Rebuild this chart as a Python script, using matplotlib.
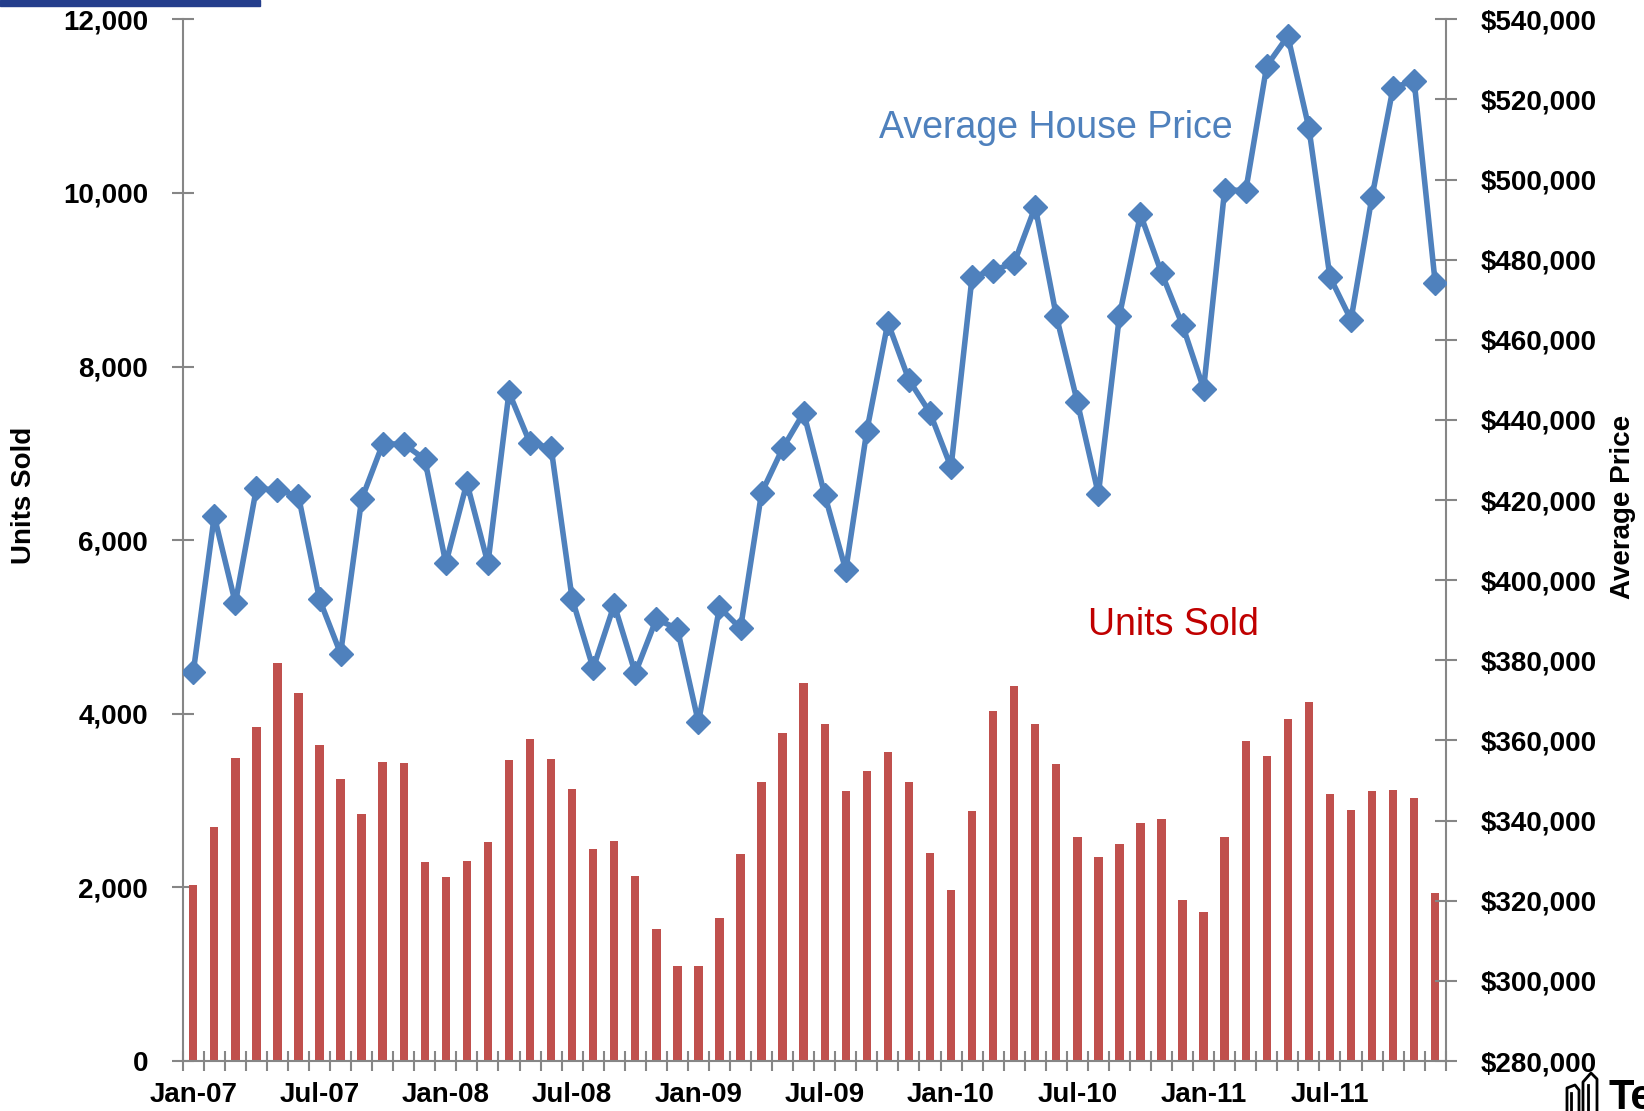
import matplotlib
matplotlib.use('Agg')
import matplotlib.pyplot as plt
from matplotlib.ticker import FixedLocator, FuncFormatter, MultipleLocator
from matplotlib.patches import Rectangle
from matplotlib.lines import Line2D

plt.rcParams['font.family'] = ['Liberation Sans', 'DejaVu Sans']

# ---------------- data ----------------
month_names = ['Jan', 'Feb', 'Mar', 'Apr', 'May', 'Jun',
               'Jul', 'Aug', 'Sep', 'Oct', 'Nov', 'Dec']
years = ['07', '08', '09', '10', '11']
months = [f"{m}-{y}" for y in years for m in month_names]

units_sold = [2030, 2690, 3490, 3850, 4580, 4240, 3640, 3245, 2850, 3450, 3430, 2295,
              2125, 2305, 2525, 3465, 3710, 3480, 3130, 2440, 2540, 2130, 1520, 1090,
              1090, 1645, 2390, 3215, 3775, 4360, 3880, 3105, 3340, 3555, 3210, 2395,
              1970, 2885, 4035, 4315, 3885, 3425, 2575, 2355, 2495, 2745, 2790, 1850,
              1715, 2575, 3685, 3515, 3945, 4135, 3070, 2890, 3110, 3120, 3025, 1940]

avg_price = [377000, 416000, 394300, 422900, 422500, 421000, 395200, 381700, 420200, 434000, 434000, 430200,
             404200, 424300, 404200, 446900, 434200, 433100, 395400, 378000, 393900, 376800, 390300, 387900,
             364500, 393200, 388000, 421800, 432900, 441800, 421300, 402500, 437300, 464300, 450000, 441800,
             428200, 475700, 477300, 479200, 493200, 466000, 444500, 421500, 466000, 491300, 476700, 463600,
             447800, 497500, 497200, 528400, 535800, 512900, 475700, 465000, 495700, 522900, 524700, 474300]

tick_labels = ['Jan-07', 'Jul-07', 'Jan-08', 'Jul-08', 'Jan-09',
               'Jul-09', 'Jan-10', 'Jul-10', 'Jan-11', 'Jul-11']

# ---------------- styles ----------------
BAR_C = '#C0504D'
LINE_C = '#4F81BD'
AXIS_C = '#868686'
W, H = 1644, 1111
TFS = 20

fig = plt.figure(figsize=(W / 100, H / 100), dpi=100)
ax = fig.add_axes([182.7 / W, 1 - 1061 / H, (1445.7 - 182.7) / W, (1061 - 19.3) / H])

x = list(range(len(months)))
ax.bar(x, units_sold, width=0.4, color=BAR_C, zorder=2)
ax.set_xlim(-0.5, len(months) - 0.5)
ax.set_ylim(0, 12000)
ax.yaxis.set_major_locator(MultipleLocator(2000))
ax.yaxis.set_major_formatter(FuncFormatter(lambda v, p: f"{v:,.0f}"))

# x ticks: labels at category centres, marks at category boundaries
label_pos = [months.index(t) for t in tick_labels]
ax.xaxis.set_major_locator(FixedLocator(label_pos))
ax.set_xticklabels(tick_labels)
ax.xaxis.set_minor_locator(FixedLocator([i - 0.5 for i in range(len(months) + 1)]))
ax.tick_params(axis='x', which='major', length=0, pad=15, labelsize=TFS)
ax.tick_params(axis='x', which='minor', direction='inout', length=14, width=1.5, color=AXIS_C)
ax.tick_params(axis='y', direction='inout', length=16, width=1.5, color=AXIS_C, pad=17, labelsize=TFS)
for lab in ax.get_xticklabels() + ax.get_yticklabels():
    lab.set_fontweight('bold')

for s in ['top', 'right']:
    ax.spines[s].set_visible(False)
for s in ['left', 'bottom']:
    ax.spines[s].set_color(AXIS_C)
    ax.spines[s].set_linewidth(1.5)

ax2 = ax.twinx()
ax2.plot(x, avg_price, color=LINE_C, lw=4.0, marker='D', markersize=12.5,
         markerfacecolor=LINE_C, markeredgecolor=LINE_C, zorder=3)
ax2.set_ylim(280000, 540000)
ax2.yaxis.set_major_locator(MultipleLocator(20000))
ax2.yaxis.set_major_formatter(FuncFormatter(lambda v, p: f"${v:,.0f}"))
ax2.tick_params(axis='y', direction='inout', length=16, width=1.5, color=AXIS_C, pad=17, labelsize=TFS)
for lab in ax2.get_yticklabels():
    lab.set_fontweight('bold')
for s in ['top', 'left', 'bottom']:
    ax2.spines[s].set_visible(False)
ax2.spines['right'].set_color(AXIS_C)
ax2.spines['right'].set_linewidth(1.5)

# axis titles
fig.text(24 / W, 1 - 495 / H, 'Units Sold', rotation=90, ha='center', va='center',
         fontsize=20, fontweight='bold')
fig.text(1623 / W, 1 - 507 / H, 'Average Price', rotation=90, ha='center', va='center',
         fontsize=20, fontweight='bold')

# series annotations
fig.text(879 / W, 1 - 137.5 / H, 'Average House Price', color=LINE_C, fontsize=27,
         ha='left', va='baseline')
fig.text(1088 / W, 1 - 634.6 / H, 'Units Sold', color='#C00000', fontsize=27,
         ha='left', va='baseline')

# top header strip
fig.add_artist(Rectangle((0, 1 - 6 / H), 260 / W, 6 / H, transform=fig.transFigure,
                         color='#243E8C', zorder=5))

# partial logo bottom right
def px_line(xs, ys):
    fig.add_artist(Line2D([v / W for v in xs], [1 - v / H for v in ys],
                          transform=fig.transFigure, color='black', lw=2))

px_line([1567, 1567, 1575, 1579, 1579], [1111, 1088, 1085, 1090, 1111])
px_line([1571, 1571], [1111, 1093])
px_line([1583, 1583, 1591, 1597, 1597], [1111, 1082, 1073, 1079, 1111])
px_line([1588, 1588], [1111, 1085])
fig.text(1608 / W, 1 - 1078 / H, 'Te', fontsize=30, fontweight='bold', ha='left', va='top')

fig.savefig('out.png', dpi=100)
